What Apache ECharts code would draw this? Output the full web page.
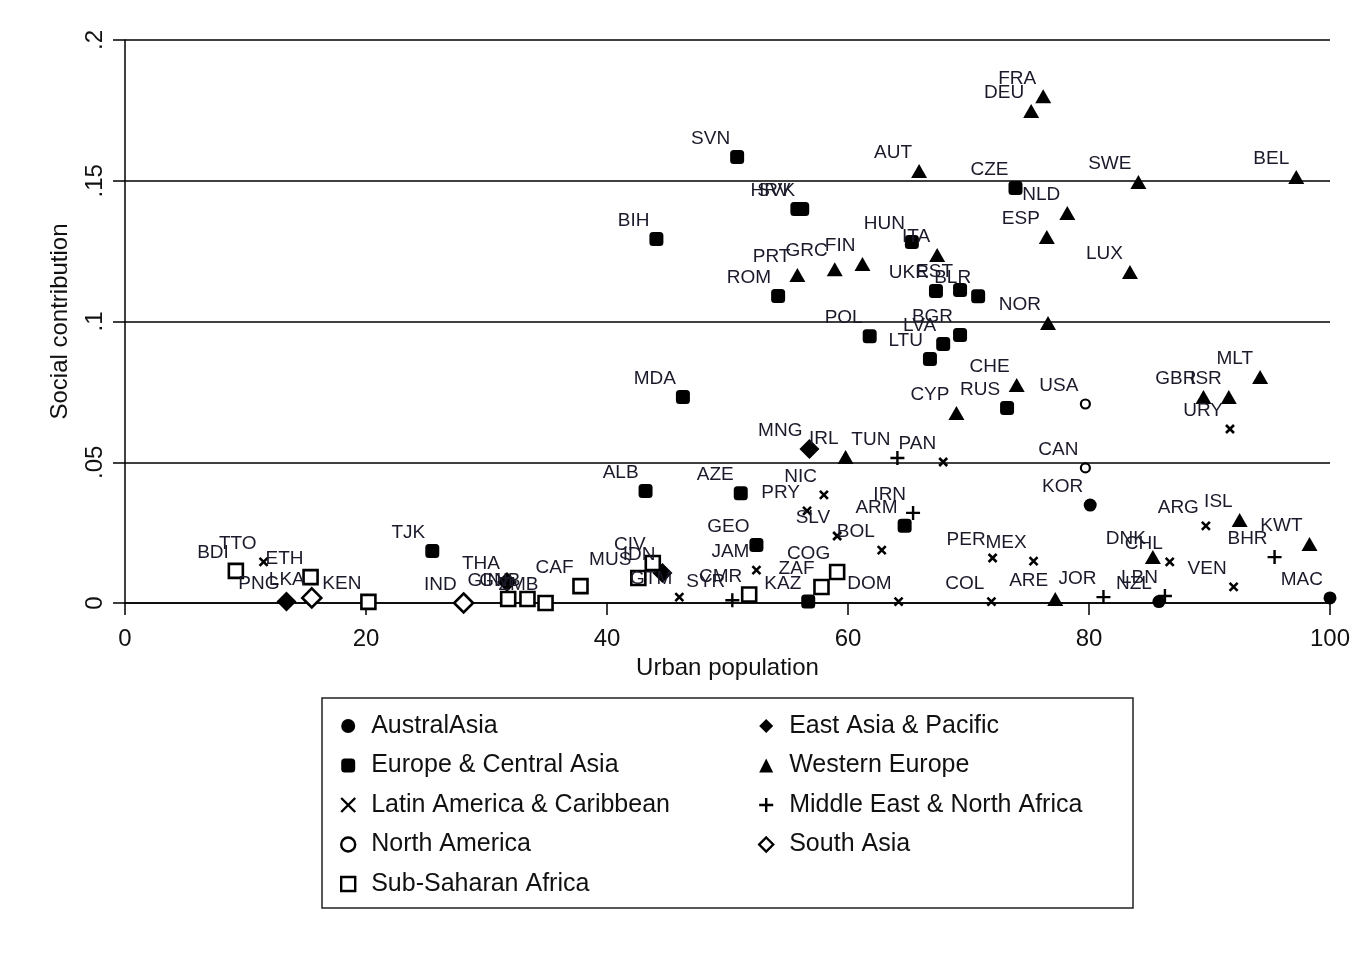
<!DOCTYPE html>
<html>
<head>
<meta charset="utf-8">
<title>Social contribution vs urban population</title>
<script src="https://cdn.jsdelivr.net/npm/echarts@6/dist/echarts.min.js"></script>
<style>
  html, body { margin: 0; padding: 0; background: #fff; }
  #chart { width: 1364px; height: 953px; }
</style>
</head>
<body>
<div id="chart"></div>
<script>
// Country code, urban population (%), social contribution
const australAsia = [["KOR", 80.1, 0.0348], ["NZL", 85.8, 0.0005], ["MAC", 100, 0.0018]];
const eastAsiaPacific = [["MNG", 56.8, 0.0547], ["THA", 31.7, 0.0075], ["IDN", 44.6, 0.0107], ["PNG", 13.4, 0.0005]];
const europeCentralAsia = [
  ["SVN", 50.8, 0.1584], ["CZE", 73.9, 0.1474], ["HRV", 55.8, 0.140], ["SVK", 56.2, 0.140],
  ["BIH", 44.1, 0.1293], ["HUN", 65.3, 0.1282], ["ROM", 54.2, 0.1091], ["UKR", 67.3, 0.1108],
  ["EST", 69.3, 0.1112], ["BLR", 70.8, 0.109], ["POL", 61.8, 0.0948], ["BGR", 69.3, 0.0952],
  ["LVA", 67.9, 0.092], ["LTU", 66.8, 0.0867], ["MDA", 46.3, 0.0732], ["RUS", 73.2, 0.0693],
  ["ALB", 43.2, 0.0398], ["AZE", 51.1, 0.039], ["GEO", 52.4, 0.0206], ["ARM", 64.7, 0.0274],
  ["TJK", 25.5, 0.0185], ["KAZ", 56.7, 0.0005]
];
const westernEurope = [
  ["FRA", 76.2, 0.180], ["DEU", 75.2, 0.1748], ["AUT", 65.9, 0.1535], ["SWE", 84.1, 0.1496],
  ["BEL", 97.2, 0.1513], ["NLD", 78.2, 0.1385], ["ESP", 76.5, 0.130], ["LUX", 83.4, 0.1176],
  ["NOR", 76.6, 0.0995], ["ITA", 67.4, 0.1236], ["PRT", 55.8, 0.1165], ["GRC", 58.9, 0.1186],
  ["FIN", 61.2, 0.1204], ["CHE", 74.0, 0.0774], ["CYP", 69.0, 0.0675], ["GBR", 89.5, 0.0732],
  ["ISR", 91.6, 0.0732], ["MLT", 94.2, 0.0803], ["IRL", 59.8, 0.0519], ["ISL", 92.5, 0.0295],
  ["KWT", 98.3, 0.021], ["DNK", 85.3, 0.0163], ["ARE", 77.2, 0.0014]
];
const latinAmerica = [
  ["PAN", 67.9, 0.0501], ["URY", 91.7, 0.0618], ["NIC", 58.0, 0.0384], ["PRY", 56.6, 0.0327],
  ["SLV", 59.1, 0.0238], ["BOL", 62.8, 0.0188], ["JAM", 52.4, 0.0117], ["DOM", 64.2, 0.0005],
  ["PER", 72.0, 0.016], ["MEX", 75.4, 0.0149], ["COL", 71.9, 0.0005], ["ARG", 89.7, 0.0274],
  ["VEN", 92.0, 0.0057], ["CHL", 86.7, 0.0146], ["TTO", 11.5, 0.0146], ["GTM", 46.0, 0.0021]
];
const middleEastNorthAfrica = [
  ["TUN", 64.1, 0.0515], ["IRN", 65.4, 0.032], ["SYR", 50.4, 0.001],
  ["JOR", 81.2, 0.0021], ["LBN", 86.3, 0.0025], ["BHR", 95.4, 0.0163]
];
const northAmerica = [["USA", 79.7, 0.0707], ["CAN", 79.7, 0.048]];
const southAsia = [["LKA", 15.5, 0.0018], ["IND", 28.1, 0.0]];
const subSaharanAfrica = [
  ["BDI", 9.2, 0.0114], ["ETH", 15.4, 0.0092], ["KEN", 20.2, 0.0004], ["GIN", 31.8, 0.0014],
  ["GNB", 33.4, 0.0014], ["ZMB", 34.9, 0.0], ["CAF", 37.8, 0.006], ["MUS", 42.6, 0.0089],
  ["CIV", 43.8, 0.0142], ["CMR", 51.8, 0.003], ["ZAF", 57.8, 0.0057], ["COG", 59.1, 0.011]
];

const xTicks = [0, 20, 40, 60, 80, 100];
const yTicks = [0, 0.05, 0.1, 0.15, 0.2];

const FONT = "'Liberation Sans', Arial, sans-serif";
const INK = '#000';
const LABEL_INK = '#1a1a2a';

const CROSS = 'path://M0,0L10,10M10,0L0,10';
const PLUS = 'path://M5,0L5,10M0,5L10,5';

const solid = { color: INK, borderWidth: 0, opacity: 1 };
const hollow = w => ({ color: '#fff', borderColor: INK, borderWidth: w, opacity: 1 });
const stroked = w => ({ color: 'rgba(0,0,0,0)', borderColor: INK, borderWidth: w, opacity: 1 });

// region name, points, marker, marker size, marker style
const regions = [
  { name: 'AustralAsia', pts: australAsia, symbol: 'circle', size: 13, style: solid },
  { name: 'East Asia & Pacific', pts: eastAsiaPacific, symbol: 'diamond', size: 20, style: solid },
  { name: 'Europe & Central Asia', pts: europeCentralAsia, symbol: 'roundRect', size: 14, style: solid },
  { name: 'Western Europe', pts: westernEurope, symbol: 'triangle', size: [16, 14], style: solid },
  { name: 'Latin America & Caribbean', pts: latinAmerica, symbol: CROSS, size: 8, style: stroked(2.6) },
  { name: 'Middle East & North Africa', pts: middleEastNorthAfrica, symbol: PLUS, size: 14, style: stroked(2.4) },
  { name: 'North America', pts: northAmerica, symbol: 'circle', size: 9, style: hollow(2.2) },
  { name: 'South Asia', pts: southAsia, symbol: 'diamond', size: 19, style: hollow(2.6) },
  { name: 'Sub-Saharan Africa', pts: subSaharanAfrica, symbol: 'rect', size: 14, style: hollow(2.6) }
];

const series = regions.map(r => ({
  name: r.name,
  type: 'scatter',
  symbol: r.symbol,
  symbolSize: r.size,
  itemStyle: r.style,
  emphasis: { disabled: true },
  data: r.pts.map(p => ({ name: p[0], value: [p[1], p[2]] })),
  label: {
    show: true,
    position: 'inside',
    align: 'right',
    verticalAlign: 'middle',
    offset: [-7, -18],
    formatter: '{b}',
    fontFamily: FONT,
    fontSize: 19,
    color: LABEL_INK,
    opacity: 1
  },
  z: 3
}));

const legendItem = r => ({
  name: r.name,
  icon: r.symbol,
  itemStyle: Object.assign({}, r.style, r.style.borderWidth ? { borderWidth: 2.4 } : {})
});

const legendCommon = {
  orient: 'vertical',
  itemWidth: 14,
  itemHeight: 14,
  itemGap: 13.5,
  selectedMode: false,
  textStyle: { fontFamily: FONT, fontSize: 25, color: '#111', lineHeight: 26, padding: [0, 0, 0, 11] }
};

const fmtY = v => String(Number(v.toFixed(2))).replace(/^0\./, '.');

const option = {
  backgroundColor: '#fff',
  animation: false,
  grid: { left: 125, right: 34, top: 40, bottom: 350, containLabel: false },
  xAxis: {
    type: 'value',
    min: xTicks[0],
    max: xTicks[xTicks.length - 1],
    interval: xTicks[1] - xTicks[0],
    name: 'Urban population',
    nameLocation: 'middle',
    nameGap: 50,
    nameTextStyle: { fontFamily: FONT, fontSize: 24, color: '#111' },
    axisLine: { show: true, onZero: false, lineStyle: { color: INK, width: 1.5 } },
    axisTick: { show: true, length: 12, lineStyle: { color: INK, width: 1.5 } },
    axisLabel: { fontFamily: FONT, fontSize: 24, color: '#111', margin: 24 },
    splitLine: { show: false }
  },
  yAxis: {
    type: 'value',
    min: yTicks[0],
    max: yTicks[yTicks.length - 1],
    interval: yTicks[1] - yTicks[0],
    name: 'Social contribution',
    nameLocation: 'middle',
    nameGap: 53,
    nameRotate: 90,
    nameTextStyle: { fontFamily: FONT, fontSize: 24, color: '#111' },
    axisLine: { show: true, onZero: false, lineStyle: { color: INK, width: 1.5 } },
    axisTick: { show: true, length: 12, lineStyle: { color: INK, width: 1.5 } },
    axisLabel: { fontFamily: FONT, fontSize: 24, color: '#111', rotate: 90, margin: 30, formatter: fmtY, verticalAlign: 'middle' },
    splitLine: { show: true, lineStyle: { color: INK, width: 1.5 } }
  },
  legend: [
    Object.assign({}, legendCommon, {
      left: 335, top: 708,
      data: [regions[0], regions[2], regions[4], regions[6], regions[8]].map(legendItem)
    }),
    Object.assign({}, legendCommon, {
      left: 753, top: 708,
      data: [regions[1], regions[3], regions[5], regions[7]].map(legendItem)
    })
  ],
  graphic: [
    {
      type: 'rect',
      shape: { x: 322, y: 698, width: 811, height: 210 },
      style: { fill: 'none', stroke: '#222', lineWidth: 1.5 },
      silent: true
    }
  ],
  series: series
};

const chart = echarts.init(document.getElementById('chart'), null, { renderer: 'canvas' });
chart.setOption(option);
</script>
</body>
</html>
